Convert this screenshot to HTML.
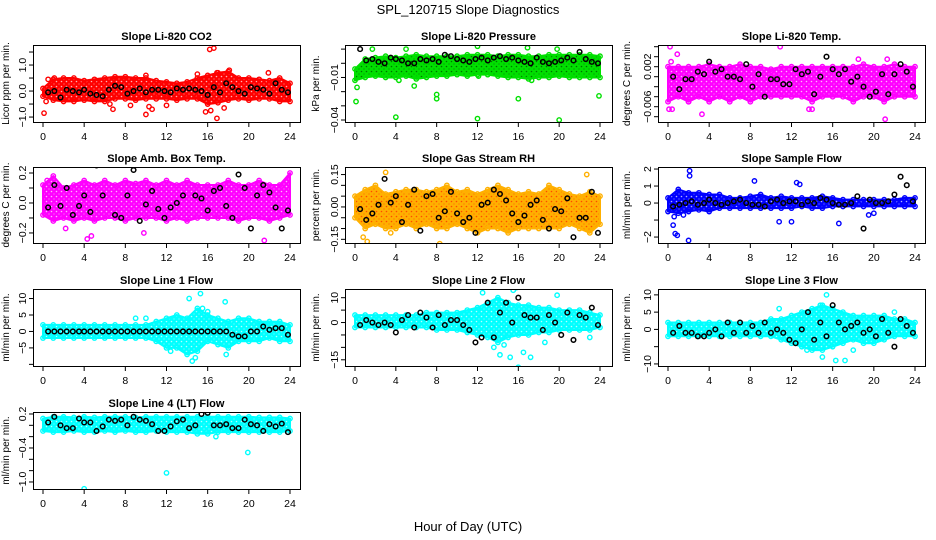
<!DOCTYPE html>
<html><head><meta charset="utf-8">
<style>
html,body{margin:0;padding:0;background:#fff;}
svg{display:block;font-family:"Liberation Sans",Arial,sans-serif;}
</style></head>
<body>
<svg id="chart" width="936" height="540" viewBox="0 0 936 540" xmlns="http://www.w3.org/2000/svg">
<rect width="936" height="540" fill="#fff"/>
<text x="468" y="14" text-anchor="middle" font-size="13">SPL_120715  Slope Diagnostics</text>
<text x="468" y="531" text-anchor="middle" font-size="13">Hour of Day (UTC)</text>
</svg>
<script>
// shared time axes
const hours = [0,1,2,3,4,5,6,7,8,9,10,11,12,13,14,15,16,17,18,19,20,21,22,23,24];
const blackTimes = [0.5,1.1,1.7,2.3,2.9,3.5,4.0,4.6,5.2,5.8,6.4,7.0,7.6,8.2,8.8,9.4,10.0,10.6,11.2,11.8,12.4,13.0,13.6,14.2,14.8,15.4,16.0,16.6,17.2,17.8,18.4,19.0,19.6,20.2,20.8,21.4,22.0,22.6,23.2,23.8];
const xTicks = [0,4,8,12,16,20,24];

// Panel 1: CO2
const co2Lo = [-0.2,-0.35,-0.4,-0.4,-0.35,-0.4,-0.4,-0.3,-0.3,-0.35,-0.3,-0.3,-0.3,-0.35,-0.3,-0.3,-0.5,-0.45,-0.35,-0.3,-0.35,-0.3,-0.3,-0.4,-0.4];
const co2Hi = [0.1,0.45,0.5,0.5,0.4,0.45,0.5,0.55,0.55,0.5,0.5,0.4,0.35,0.3,0.35,0.5,0.6,0.7,0.75,0.5,0.5,0.45,0.4,0.5,0.3];
const co2Black = [-0.05,0,-0.25,0.05,0,-0.05,0.05,-0.1,-0.15,-0.2,0.05,0.2,0.15,-0.1,0,0.1,-0.05,0.05,0.05,0,-0.05,0.1,0.05,0.1,0.05,0,-0.15,0.15,-0.05,0.3,0.15,0,-0.1,0.15,0.1,0.05,-0.1,0.3,0.05,-0.05];
const co2OutT = [0.1,0.3,0.5,1.1,6.5,6.8,8.5,10,10.3,10.6,12,15.8,16.2,16.6,16.9,16.9,17.6,18.1,15,21.9,10,16.3];
const co2OutY = [-0.85,-0.4,0.45,0.5,-0.5,-0.7,-0.55,-0.9,-0.6,-0.7,-0.55,-0.8,1.6,1.65,0.7,-1.05,-0.65,0.8,0.65,0.7,0.6,-0.75];
const co2Ticks = [-1,-0.5,0,0.5,1,1.5];
const co2Labels = ["-1.0","","0.0","","1.0",""];

// Panel 2: Pressure
const prLo = [-0.012,-0.01,-0.009,-0.01,-0.01,-0.009,-0.011,-0.01,-0.009,-0.009,-0.008,-0.009,-0.008,-0.008,-0.009,-0.01,-0.01,-0.011,-0.01,-0.01,-0.009,-0.01,-0.01,-0.01,-0.01];
const prHi = [-0.004,0.003,0.004,0.005,0.004,0.005,0.006,0.005,0.005,0.005,0.005,0.006,0.006,0.006,0.005,0.006,0.006,0.005,0.005,0.006,0.006,0.006,0.006,0.006,0.005];
const prBlack = [0.01,0.002,0.003,0.001,0.0,0.004,0.003,0.002,0.0,0.0,0.003,0.002,0.003,0.001,0.006,0.005,0.003,0.002,0.001,0.003,0.004,0.002,0.004,0.005,0.003,0.004,0.002,0.001,0.0,0.004,0.001,0.0,0.001,0.002,0.004,0.002,0.008,0.003,0.001,0.0];
const prOutT = [0.1,0.2,1.7,4,5,5.8,8,8,12,12,12.1,16,16.9,19.8,20,23.9,4.3,17.3];
const prOutY = [-0.027,-0.017,0.01,-0.038,0.01,-0.016,-0.022,-0.025,-0.039,0.012,-0.009,-0.025,0.011,0.01,-0.04,-0.023,-0.012,-0.012];
const prTicks = [-0.04,-0.03,-0.02,-0.01,0,0.01];
const prLabels = ["-0.04","","","-0.01","",""];

// Panel 3: Li-820 Temp
const tLo = [-0.005,-0.004,-0.005,-0.004,-0.005,-0.004,-0.005,-0.004,-0.005,-0.004,-0.004,-0.004,-0.004,-0.004,-0.005,-0.004,-0.004,-0.004,-0.005,-0.004,-0.004,-0.005,-0.004,-0.004,-0.004];
const tHi = [0.002,0.002,0.002,0.002,0.0025,0.002,0.002,0.0025,0.002,0.002,0.0015,0.002,0.002,0.002,0.002,0.002,0.002,0.002,0.002,0.0025,0.002,0.002,0.0025,0.002,0.002];
const tBlack = [0,-0.0025,-0.0005,-0.0005,0.001,0.0005,0.003,0.001,0.0015,0,0,-0.0005,0.0025,-0.002,0.0005,-0.004,-0.0005,-0.0005,-0.0015,-0.0015,0.0015,0.0005,0.001,-0.0035,0,0.004,0.0015,0.0005,0.0015,-0.001,0,-0.002,-0.004,-0.003,0.0005,-0.0035,0.0005,0.0025,0.001,-0.002];
const tOutT = [0.1,0.2,0.4,0.9,3.3,10.9,13.7,14,18.5,21.1,21.3,2,0.3];
const tOutY = [-0.0065,0.006,-0.0065,0.0045,-0.0075,0.006,-0.0065,-0.0065,0.0035,-0.0085,0.0035,-0.005,0.003];
const tTicks = [-0.008,-0.006,-0.004,-0.002,0,0.002,0.004,0.006];
const tLabels = ["","-0.006","","","","0.002","",""];

// Panel 4: Amb Box Temp
const aLo = [-0.08,-0.12,-0.1,-0.12,-0.1,-0.12,-0.1,-0.1,-0.12,-0.1,-0.1,-0.1,-0.12,-0.1,-0.12,-0.1,-0.1,-0.1,-0.1,-0.12,-0.1,-0.1,-0.12,-0.1,-0.08];
const aHi = [0.12,0.18,0.1,0.12,0.15,0.12,0.15,0.12,0.15,0.13,0.15,0.12,0.15,0.12,0.15,0.12,0.12,0.12,0.15,0.12,0.12,0.15,0.12,0.12,0.2];
const aBlack = [-0.03,0.12,-0.02,0.1,-0.08,-0.02,0.05,-0.06,0.25,0.05,0.26,-0.08,-0.1,0.05,0.22,-0.12,-0.01,0.08,-0.04,-0.1,-0.03,0,0.05,0.26,0.05,0.03,-0.05,0.08,0.1,-0.02,-0.1,0.19,0.1,-0.17,0.05,0.12,0.07,-0.03,-0.17,-0.05];
const aOutT = [4.3,4.7,9.3,9.8,21.5,2.2,0.4];
const aOutY = [-0.24,-0.22,-0.3,-0.2,-0.25,-0.17,0.15];
const aTicks = [-0.2,-0.1,0,0.1,0.2];
const aLabels = ["-0.2","","0.0","","0.2"];

// Panel 5: Gas Stream RH
const rhLo = [-0.05,-0.1,-0.08,-0.1,-0.1,-0.08,-0.1,-0.08,-0.1,-0.1,-0.08,-0.1,-0.12,-0.1,-0.1,-0.12,-0.1,-0.1,-0.1,-0.1,-0.1,-0.08,-0.1,-0.12,-0.08];
const rhHi = [0.05,0.08,0.1,0.06,0.07,0.08,0.08,0.07,0.08,0.1,0.07,0.08,0.06,0.08,0.1,0.08,0.06,0.07,0.06,0.1,0.08,0.06,0.05,0.07,0.05];
const rhBlack = [-0.01,-0.06,-0.03,0.01,0.13,0.02,0.05,-0.07,0.01,0.08,-0.11,0.05,0.06,-0.05,-0.02,0.07,-0.03,-0.07,-0.05,-0.12,0.01,0.02,0.08,0.06,0.03,-0.03,-0.07,-0.04,0.01,0.03,-0.06,-0.1,-0.01,-0.02,0.04,-0.14,-0.05,-0.05,0.07,-0.12];
const rhOutT = [3,3.5,8.3,15.2,19,22.7,0.8,1.2];
const rhOutY = [0.16,-0.12,-0.17,-0.19,-0.18,0.15,-0.14,-0.16];
const rhTicks = [-0.15,-0.1,-0.05,0,0.05,0.1,0.15];
const rhLabels = ["-0.15","","","0.00","","","0.15"];

// Panel 6: Sample Flow
const sfLo = [-0.5,-0.6,-0.5,-0.4,-0.5,-0.3,-0.3,-0.3,-0.3,-0.3,-0.3,-0.3,-0.3,-0.2,-0.3,-0.3,-0.2,-0.2,-0.2,-0.2,-0.2,-0.2,-0.2,-0.2,-0.2];
const sfHi = [0.3,0.8,0.6,0.6,0.5,0.5,0.3,0.3,0.4,0.5,0.3,0.4,0.3,0.3,0.3,0.4,0.3,0.2,0.2,0.2,0.2,0.2,0.2,0.3,0.3];
const sfBlack = [-0.2,-0.1,0,0.1,-0.1,0,0.2,0,-0.1,0,0.1,0.2,0,-0.1,-0.1,-0.2,0.1,0.2,0,0.1,0.1,-0.1,0.1,0,0.3,0.2,0,-0.1,-0.1,0,0.4,-1.5,0.2,0,0,0.1,0.5,1.55,1.05,0.1];
const sfOutT = [0.5,0.7,0.9,2.1,2.1,2.0,1.2,8.4,12.5,12.8,10.8,12,16.6,19.5,20,0.6,1.5];
const sfOutY = [-1.3,-1.8,-1.9,1.9,1.6,-2.2,-0.15,1.3,1.2,1.1,-1.1,-1.1,-1.2,-0.7,-0.6,-0.8,-0.7];
const sfTicks = [-2,-1,0,1,2];
const sfLabels = ["-2","","0","1","2"];

// Panel 7: Line 1 Flow
const l1Lo = [-2,-2,-2,-2,-2,-2,-2,-2,-2,-2,-2,-3,-5,-5,-7,-6,-3,-4,-5,-3,-3,-3,-2,-3,-3];
const l1Hi = [2,2,2,2,2,2,2,2,2,2,2,3,4,5,4,7,5,4,3,4,4,3,3,3,2];
const l1Black = [0,0,0,0,0,0,0,0,0,0,0,0,0,0,0,0,0,0,0,0,0,0,0,0,0,0,0,0,0,0,-1,-1.5,-1.5,0,0,1.5,0.5,1,1,-1];
const l1OutT = [14.2,15.3,17.7,14.5,14.8,17.8,12.4,15.5,16,9,10];
const l1OutY = [10,11.5,9,-9,-8,-7,-6,7,6,4,4];
const l1Ticks = [-10,-5,0,5,10];
const l1Labels = ["","-5","0","5","10"];

// Panel 8: Line 2 Flow
const l2Lo = [-2,-2,-2,-2,-2,-2,-2,-2,-3,-3,-3,-4,-5,-6,-8,-6,-5,-5,-4,-4,-3,-3,-3,-3,-2];
const l2Hi = [3,3,3,3,3,3,3,4,4,4,4,5,6,8,10,8,7,7,6,6,5,5,5,4,3];
const l2Black = [-1,1,0,-1,0,-1,-4,1,3,-2,4,2,-2,3,-1,1,1,-1,-3,-8,-6,8,-6,4,8,0,10,3,2,2,-3,3,0,-5,4,-7,3,2,6,-1];
const l2OutT = [15.5,15.8,14.2,15.2,16.5,17.2,12.5,19.8,14.6,18.6,23,13.6,16];
const l2OutY = [13,14,-13,-14,-12,-14,12,11,-9,-8,-6,-10,-18];
const l2Ticks = [-15,-10,-5,0,5,10];
const l2Labels = ["-15","","","0","","10"];

// Panel 9: Line 3 Flow
const l3Lo = [-2,-2,-2,-2,-2,-2,-2,-2,-2,-2,-2,-3,-4,-5,-6,-6,-5,-4,-3,-4,-4,-3,-2,-2,-2];
const l3Hi = [2,2,2,2,2,2,2,2,2,2,3,3,4,5,6,7,6,5,4,4,4,4,3,3,2];
const l3Black = [-1,1,-1,-1,-2,-2,-1,0,-2,2,-1,2,-1,1,-1,2,-1,0,-1,-3,-4,0,5,-3,2,-2,7,2,0,1,2,-1,0,-2,3,-1,-5,3,1,-1];
const l3OutT = [15.4,16.3,17.2,15,14.8,10.8,20.5,22,13.5,18];
const l3OutY = [10,-9,-9,-8,7,6,3,5,-6,-6];
const l3Ticks = [-10,-5,0,5,10];
const l3Labels = ["-10","","0","5","10"];

// Panel 10: Line 4 (LT) Flow
const l4Lo = [-0.1,-0.12,-0.12,-0.1,-0.12,-0.12,-0.1,-0.12,-0.1,-0.12,-0.12,-0.1,-0.12,-0.12,-0.12,-0.15,-0.15,-0.12,-0.12,-0.12,-0.12,-0.12,-0.12,-0.12,-0.1];
const l4Hi = [0.12,0.15,0.15,0.14,0.15,0.14,0.15,0.15,0.15,0.14,0.15,0.15,0.15,0.15,0.15,0.15,0.15,0.15,0.15,0.15,0.15,0.14,0.14,0.14,0.12];
const l4Black = [0.05,0.15,0,-0.05,-0.05,0.12,0.05,0.05,-0.1,-0.02,0.1,0.08,0.1,0,0.15,0.1,0.08,0.02,-0.1,-0.1,-0.02,0.07,0.1,-0.05,0,0.2,0.22,0,0,0.02,-0.05,-0.05,0.1,0.02,0,-0.1,0.02,-0.02,0.03,-0.12];
const l4OutT = [4,12,19.9,16.8,20];
const l4OutY = [-1.12,-0.84,-0.48,-0.2,-0.05];
const l4Ticks = [-1.0,-0.8,-0.6,-0.4,-0.2,0,0.2];
const l4Labels = ["-1.0","","","-0.4","","","0.2"];

const svg = document.getElementById('chart');
const NS = 'http://www.w3.org/2000/svg';
function mk(tag, attrs, parent){
  const e = document.createElementNS(NS, tag);
  for (const k in attrs) e.setAttribute(k, attrs[k]);
  (parent||svg).appendChild(e);
  return e;
}
const defs = mk('defs', {});

const COLS = [{bx:33,x0:43,x24:290,tit:9},{bx:345,x0:355,x24:600,tit:319},{bx:658,x0:668,x24:915,tit:630}];
const BW = 267;
const ROWS = [{top:45,bot:122},{top:167,bot:243},{top:289,bot:366},{top:412,bot:489}];

const panels = [
 {name:'co2',title:'Slope Li-820 CO2',ylab:'Licor ppm per min.',r:0,c:0,ymin:-1.19,ymax:1.77,lo:co2Lo,hi:co2Hi,bl:co2Black,ot:co2OutT,oy:co2OutY,ticks:co2Ticks,labels:co2Labels,color:'#ff0000',dot:'#ffffff'},
 {name:'pressure',title:'Slope Li-820 Pressure',ylab:'kPa per min.',r:0,c:1,ymin:-0.0414,ymax:0.0129,lo:prLo,hi:prHi,bl:prBlack,ot:prOutT,oy:prOutY,ticks:prTicks,labels:prLabels,color:'#00e000',dot:'#004000'},
 {name:'li820-temp',title:'Slope Li-820 Temp.',ylab:'degrees C per min.',r:0,c:2,ymin:-0.00906,ymax:0.00634,lo:tLo,hi:tHi,bl:tBlack,ot:tOutT,oy:tOutY,ticks:tTicks,labels:tLabels,color:'#ff00ff',dot:'#ffffff'},
 {name:'amb-box-temp',title:'Slope Amb. Box Temp.',ylab:'degrees C per min.',r:1,c:0,ymin:-0.267,ymax:0.24,lo:aLo,hi:aHi,bl:aBlack,ot:aOutT,oy:aOutY,ticks:aTicks,labels:aLabels,color:'#ff00ff',dot:'#ffffff'},
 {name:'gas-stream-rh',title:'Slope Gas Stream RH',ylab:'percent per min.',r:1,c:1,ymin:-0.167,ymax:0.185,lo:rhLo,hi:rhHi,bl:rhBlack,ot:rhOutT,oy:rhOutY,ticks:rhTicks,labels:rhLabels,color:'#ffb000',dot:'#ff2000'},
 {name:'sample-flow',title:'Slope Sample Flow',ylab:'ml/min per min.',r:1,c:2,ymin:-2.35,ymax:2.12,lo:sfLo,hi:sfHi,bl:sfBlack,ot:sfOutT,oy:sfOutY,ticks:sfTicks,labels:sfLabels,color:'#0000ff',dot:'#ffffff'},
 {name:'line1-flow',title:'Slope Line 1 Flow',ylab:'ml/min per min.',r:2,c:0,ymin:-10.5,ymax:12.9,lo:l1Lo,hi:l1Hi,bl:l1Black,ot:l1OutT,oy:l1OutY,ticks:l1Ticks,labels:l1Labels,color:'#00ffff',dot:'#ffffff'},
 {name:'line2-flow',title:'Slope Line 2 Flow',ylab:'ml/min per min.',r:2,c:1,ymin:-17.5,ymax:13.5,lo:l2Lo,hi:l2Hi,bl:l2Black,ot:l2OutT,oy:l2OutY,ticks:l2Ticks,labels:l2Labels,color:'#00ffff',dot:'#ffffff'},
 {name:'line3-flow',title:'Slope Line 3 Flow',ylab:'ml/min per min.',r:2,c:2,ymin:-10.6,ymax:11.7,lo:l3Lo,hi:l3Hi,bl:l3Black,ot:l3OutT,oy:l3OutY,ticks:l3Ticks,labels:l3Labels,color:'#00ffff',dot:'#ffffff'},
 {name:'line4-flow',title:'Slope Line 4 (LT) Flow',ylab:'ml/min per min.',r:3,c:0,ymin:-1.124,ymax:0.235,lo:l4Lo,hi:l4Hi,bl:l4Black,ot:l4OutT,oy:l4OutY,ticks:l4Ticks,labels:l4Labels,color:'#00ffff',dot:'#ffffff'}
];

panels.forEach(p => {
  const C = COLS[p.c], R = ROWS[p.r];
  const xs = t => C.x0 + (C.x24 - C.x0) * t / 24;
  const ys = v => R.bot - (R.bot - R.top) * (v - p.ymin) / (p.ymax - p.ymin);
  // speckle pattern for dense cloud
  const pat = mk('pattern', {id: 'pat-' + p.name, width: 5, height: 5, patternUnits: 'userSpaceOnUse'}, defs);
  mk('rect', {width: 5, height: 5, fill: p.color}, pat);
  mk('circle', {cx: 1.5, cy: 1.5, r: 0.8, fill: p.dot, 'fill-opacity': 0.7}, pat);
  mk('circle', {cx: 4, cy: 4, r: 0.6, fill: p.dot, 'fill-opacity': 0.5}, pat);

  const g = mk('g', {});
  
  
  const clipId = 'clip-' + p.name;
  const cp = mk('clipPath', {id: clipId}, g);
  mk('rect', {x: C.bx, y: R.top, width: BW, height: R.bot - R.top}, cp);
  const plot = mk('g', {'clip-path': 'url(#' + clipId + ')'}, g);
  let pts = hours.map((h,i) => xs(h).toFixed(1) + ',' + ys(p.hi[i]).toFixed(1));
  pts = pts.concat(hours.slice().reverse().map((h,j) => { const i = hours.length-1-j; return xs(h).toFixed(1) + ',' + ys(p.lo[i]).toFixed(1); }));
  const band = mk('polygon', {points: pts.join(' '), fill: 'url(#pat-' + p.name + ')', stroke: p.color, 'stroke-width': 2, 'stroke-linejoin': 'round'}, plot);
  
  
  hours.forEach((h,i) => {
    [p.hi[i], p.lo[i]].forEach(v => {
      const c = mk('circle', {cx: xs(h), cy: ys(v), r: 2.2, fill: 'none', stroke: p.color, 'stroke-width': 1.4}, plot);
      
      
    });
  });
  p.ot.forEach((t,i) => {
    const c = mk('circle', {cx: xs(t), cy: ys(p.oy[i]), r: 2.2, fill: 'none', stroke: p.color, 'stroke-width': 1.4}, plot);
    
    
  });
  blackTimes.forEach((t,i) => {
    const c = mk('circle', {cx: xs(t), cy: ys(p.bl[i]), r: 2.3, fill: 'none', stroke: '#000', 'stroke-width': 1.5}, plot);
    
    
  });
  const box = mk('rect', {x: C.bx + 0.5, y: R.top + 0.5, width: BW, height: R.bot - R.top, fill: 'none', stroke: '#000', 'stroke-width': 1}, g);
  
  
  const ti = mk('text', {x: C.bx + BW/2, y: R.top - 5, 'text-anchor': 'middle', 'font-size': 11, 'font-weight': 'bold'}, g);
  ti.textContent = p.title;
  
  
  xTicks.forEach(t => {
    const x = xs(t);
    mk('line', {x1: x, x2: x, y1: R.bot + 0.5, y2: R.bot + 5, stroke: '#000'}, g);
    const tl = mk('text', {x: x, y: R.bot + 18, 'text-anchor': 'middle', 'font-size': 10.5}, g);
    tl.textContent = t;
    
    
  });
  p.ticks.forEach((v,i) => {
    const y = ys(v);
    mk('line', {x1: C.bx - 4, x2: C.bx + 0.5, y1: y, y2: y, stroke: '#000'}, g);
    if (p.labels[i]) {
      const yl = mk('text', {x: 0, y: 0, 'text-anchor': 'middle', 'font-size': 10.5, transform: 'translate(' + (C.bx - 7) + ',' + y + ') rotate(-90)'}, g);
      yl.textContent = p.labels[i].replace('-', '\u2212');
      
      
    }
  });
  const yt = mk('text', {x: 0, y: 0, 'text-anchor': 'middle', 'font-size': 10, transform: 'translate(' + C.tit + ',' + ((R.top + R.bot)/2) + ') rotate(-90)'}, g);
  yt.textContent = p.ylab;
  
  
});
</script>
</body></html>
